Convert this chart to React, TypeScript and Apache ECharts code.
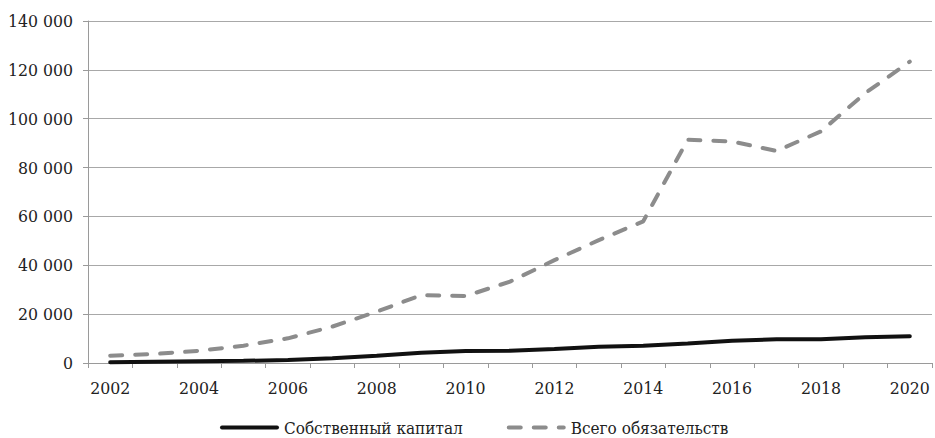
import React, { useEffect, useRef } from "react";
import * as echarts from "echarts";

const years = ["2002","2003","2004","2005","2006","2007","2008","2009","2010","2011","2012","2013","2014","2015","2016","2017","2018","2019","2020"];
const equity = [300, 500, 700, 900, 1200, 1900, 3000, 4200, 4900, 5000, 5700, 6700, 7100, 8000, 9100, 9700, 9700, 10500, 11000];
const liabilities = [3000, 3700, 5000, 7100, 10100, 14900, 21000, 27800, 27400, 33300, 42100, 50300, 58000, 91400, 90700, 86800, 94800, 110500, 123400];
const seriesNames = ["Собственный капитал", "Всего обязательств"];

const font = "DejaVu Serif Condensed";

function fmt(v: number): string {
  return String(v).replace(/\B(?=(\d{3})+(?!\d))/g, " ");
}

export default function App() {
  const ref = useRef<HTMLDivElement>(null);
  useEffect(() => {
    if (!ref.current) return;
    const chart = echarts.init(ref.current, undefined, { renderer: "svg" });
    chart.setOption({
      animation: false,
      textStyle: { fontFamily: font },
      grid: { left: 88, right: 3, top: 21, bottom: 75, containLabel: false },
      legend: {
        left: 220,
        top: 419,
        padding: 0,
        itemWidth: 55,
        itemHeight: 16,
        itemGap: 44,
        itemStyle: { opacity: 0 },
        lineStyle: { width: 4 },
        textStyle: { fontFamily: font, fontSize: 17, color: "#222", padding: [0, 0, 0, 2] },
        data: [seriesNames[0], seriesNames[1]],
      },
      xAxis: {
        type: "category",
        data: years,
        boundaryGap: true,
        axisLine: { lineStyle: { color: "#9a9a9a", width: 1 } },
        axisTick: { show: true, interval: 0, length: 5, lineStyle: { color: "#9a9a9a" } },
        axisLabel: { interval: 1, color: "#222", fontSize: 17.5, fontFamily: font, margin: 16 },
      },
      yAxis: {
        type: "value",
        min: 0,
        max: 140000,
        interval: 20000,
        axisLine: { show: true, lineStyle: { color: "#9a9a9a", width: 1 } },
        axisTick: { show: true, length: 5, lineStyle: { color: "#9a9a9a" } },
        splitLine: { show: true, lineStyle: { color: "#a8a8a8", width: 1 } },
        axisLabel: { color: "#222", fontSize: 17.5, fontFamily: font, margin: 15, formatter: (v: number) => fmt(v) },
      },
      series: [
        {
          name: seriesNames[0],
          type: "line",
          data: equity,
          showSymbol: false,
          symbol: "none",
          lineStyle: { color: "#111", width: 4, cap: "round" },
          itemStyle: { color: "#111" },
        },
        {
          name: seriesNames[1],
          type: "line",
          data: liabilities,
          showSymbol: false,
          symbol: "none",
          lineStyle: { color: "#8c8c8c", width: 4, type: [12, 13], cap: "round" },
          itemStyle: { color: "#8c8c8c" },
        },
      ],
    });
    return () => chart.dispose();
  }, []);
  return <div ref={ref} style={{ width: 935, height: 438, position: "absolute", left: 0, top: 0 }} />;
}
